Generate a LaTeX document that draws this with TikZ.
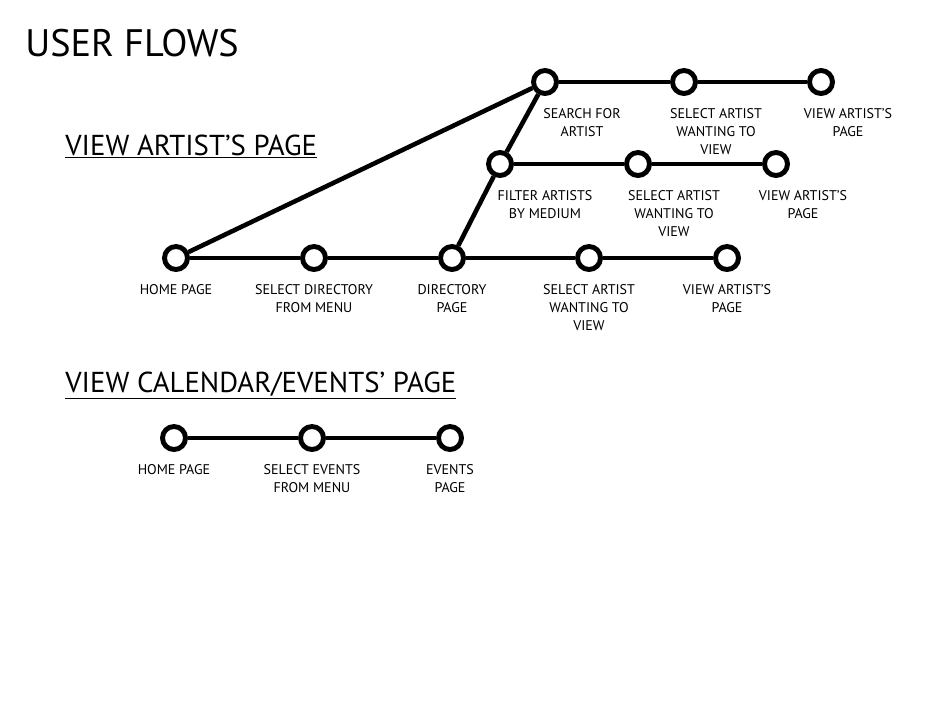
\documentclass[tikz,border=0pt]{standalone}
\usepackage{fontspec}
\setmainfont{PT Sans}
\usetikzlibrary{positioning}

\begin{document}
\begin{tikzpicture}[
	x=0.02cm, y=-0.02cm,
	stop/.style={circle, draw, fill=white, line width=2.8pt,
		minimum size=0.46cm, inner sep=0pt},
	caption/.style={font=\fontsize{8}{10.2}\selectfont, align=center, inner sep=0pt},
	heading/.style={font=\fontsize{16.4}{19}\selectfont, anchor=base west, inner sep=0pt},
	route/.style={line width=2.6pt}
	]
	\useasboundingbox (0,0) rectangle (950,700);

	\node[anchor=base west, inner sep=0pt, font=\fontsize{21.8}{25}\selectfont] (title) at (25,56) {USER FLOWS};

	% view artist's page
	\node[heading] (artistHead) at (65,155) {\underline{VIEW ARTIST’S PAGE}};

	\node[stop] (home) at (176,258) {};
	\node[stop] (seldir) at (314,258) {};
	\node[stop] (dir) at (452,258) {};
	\node[stop] (selart) at (589,258) {};
	\node[stop] (view) at (727,258) {};

	\node[stop] (filter) at (500,164) {};
	\node[stop] (selartB) at (638,164) {};
	\node[stop] (viewB) at (776,164) {};

	\node[stop] (search) at (545,82) {};
	\node[stop] (selartA) at (684,82) {};
	\node[stop] (viewA) at (821,82) {};

	\node[caption, below=0.24cm of home] (homeT) {HOME PAGE};
	\node[caption, below=0.24cm of seldir] (seldirT) {SELECT DIRECTORY\\FROM MENU};
	\node[caption, below=0.24cm of dir] (dirT) {DIRECTORY\\PAGE};
	\node[caption, below=0.24cm of selart] (selartT) {SELECT ARTIST\\WANTING TO\\VIEW};
	\node[caption, below=0.24cm of view] (viewT) {VIEW ARTIST’S\\PAGE};

	\node[caption, below=0.24cm of filter, xshift=45*0.02cm] (filterT) {FILTER ARTISTS\\BY MEDIUM};
	\node[caption, below=0.24cm of selartB, xshift=36*0.02cm] (selartBT) {SELECT ARTIST\\WANTING TO\\VIEW};
	\node[caption, below=0.24cm of viewB, xshift=27*0.02cm] (viewBT) {VIEW ARTIST’S\\PAGE};

	\node[caption, below=0.24cm of search, xshift=37*0.02cm] (searchT) {SEARCH FOR\\ARTIST};
	\node[caption, below=0.24cm of selartA, xshift=32*0.02cm] (selartAT) {SELECT ARTIST\\WANTING TO\\VIEW};
	\node[caption, below=0.24cm of viewA, xshift=27*0.02cm] (viewAT) {VIEW ARTIST’S\\PAGE};

	% view calendar/events page
	\node[heading] (eventsHead) at (65,392) {\underline{VIEW CALENDAR/EVENTS’ PAGE}};

	\node[stop] (homeC) at (174,438) {};
	\node[stop] (selev) at (312,438) {};
	\node[stop] (events) at (450,438) {};

	\node[caption, below=0.24cm of homeC] (homeCT) {HOME PAGE};
	\node[caption, below=0.24cm of selev] (selevT) {SELECT EVENTS\\FROM MENU};
	\node[caption, below=0.24cm of events] (eventsT) {EVENTS\\PAGE};

	\foreach \a/\b in {home/seldir, seldir/dir, dir/selart, selart/view, home/search,
		dir/filter, filter/search, search/selartA, selartA/viewA,
		filter/selartB, selartB/viewB, homeC/selev, selev/events} {
		\draw[route] (\a) -- (\b);
	}

\end{tikzpicture}
\end{document}
